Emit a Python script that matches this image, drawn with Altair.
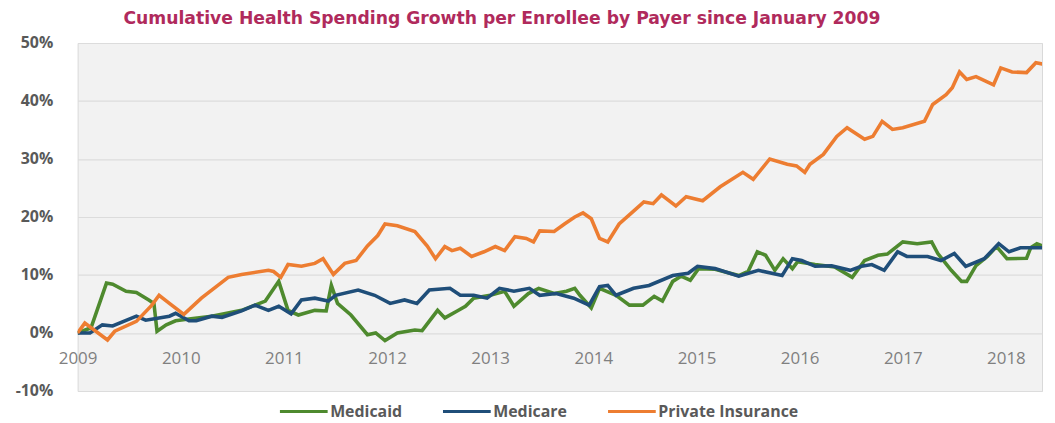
import altair as alt
import pandas as pd

# ---- data (decimal year, cumulative % growth) ----
medicaid_years = [2009.00, 2009.13, 2009.28, 2009.34, 2009.47, 2009.57, 2009.69, 2009.74, 2009.77, 2009.86,
                  2009.95, 2010.08, 2010.30, 2010.59, 2010.72, 2010.82, 2010.95, 2011.04, 2011.14, 2011.30,
                  2011.41, 2011.46, 2011.52, 2011.65, 2011.81, 2011.89, 2011.98, 2012.10, 2012.27, 2012.34,
                  2012.49, 2012.56, 2012.68, 2012.76, 2012.84, 2013.00, 2013.14, 2013.23, 2013.37, 2013.47,
                  2013.62, 2013.74, 2013.82, 2013.87, 2013.98, 2014.06, 2014.22, 2014.35, 2014.48, 2014.59,
                  2014.67, 2014.77, 2014.85, 2014.94, 2015.02, 2015.18, 2015.41, 2015.50, 2015.59, 2015.67,
                  2015.76, 2015.84, 2015.93, 2015.98, 2016.15, 2016.34, 2016.51, 2016.63, 2016.76, 2016.85,
                  2017.00, 2017.14, 2017.28, 2017.34, 2017.47, 2017.57, 2017.62, 2017.71, 2017.82, 2017.91,
                  2018.01, 2018.20, 2018.24, 2018.30, 2018.41]
medicaid_vals = [0.0, 0.9, 8.6, 8.4, 7.2, 7.0, 5.7, 5.1, 0.3, 1.4,
                 2.1, 2.4, 2.9, 3.9, 4.8, 5.5, 8.9, 3.9, 3.1, 3.9,
                 3.8, 8.2, 5.1, 3.1, -0.3, 0.0, -1.3, 0.0, 0.5, 0.4,
                 3.9, 2.6, 3.8, 4.6, 6.0, 6.5, 7.2, 4.6, 6.8, 7.7,
                 6.8, 7.2, 7.7, 6.5, 4.3, 7.7, 6.5, 4.8, 4.8, 6.3,
                 5.5, 8.9, 9.8, 9.1, 11.1, 11.0, 9.9, 10.6, 14.0, 13.4,
                 10.8, 12.8, 11.1, 12.3, 11.8, 11.4, 9.6, 12.5, 13.4, 13.6,
                 15.7, 15.4, 15.7, 13.7, 10.8, 8.9, 8.9, 11.6, 13.2, 14.9,
                 12.8, 12.9, 14.7, 15.4, 14.6]

medicare_years = [2009.00, 2009.12, 2009.24, 2009.34, 2009.57, 2009.66, 2009.79, 2009.89, 2009.95, 2010.08,
                  2010.15, 2010.30, 2010.40, 2010.59, 2010.72, 2010.85, 2010.95, 2011.07, 2011.17, 2011.30,
                  2011.43, 2011.50, 2011.72, 2011.88, 2012.03, 2012.17, 2012.29, 2012.41, 2012.61, 2012.71,
                  2012.84, 2012.97, 2013.09, 2013.23, 2013.38, 2013.48, 2013.64, 2013.81, 2013.96, 2014.06,
                  2014.14, 2014.22, 2014.39, 2014.54, 2014.77, 2014.92, 2015.01, 2015.18, 2015.41, 2015.60,
                  2015.83, 2015.93, 2016.02, 2016.15, 2016.31, 2016.49, 2016.60, 2016.70, 2016.82, 2016.95,
                  2017.04, 2017.24, 2017.37, 2017.50, 2017.61, 2017.79, 2017.93, 2018.03, 2018.14, 2018.27,
                  2018.41]
medicare_vals = [0.0, 0.0, 1.4, 1.2, 2.9, 2.2, 2.6, 2.9, 3.4, 2.1,
                 2.1, 2.9, 2.7, 3.8, 4.8, 3.9, 4.6, 3.3, 5.7, 6.0,
                 5.5, 6.5, 7.4, 6.5, 5.1, 5.7, 5.1, 7.4, 7.7, 6.5,
                 6.5, 6.0, 7.7, 7.2, 7.7, 6.5, 6.8, 6.0, 4.8, 8.0,
                 8.2, 6.5, 7.7, 8.2, 9.9, 10.3, 11.5, 11.1, 9.8, 10.8,
                 9.9, 12.8, 12.5, 11.5, 11.6, 10.8, 11.5, 11.8, 10.8, 14.0,
                 13.2, 13.2, 12.5, 13.7, 11.5, 12.8, 15.4, 14.0, 14.7, 14.7,
                 14.7]

private_years = [2009.00, 2009.07, 2009.29, 2009.36, 2009.57, 2009.72, 2009.79, 2009.89, 2010.03, 2010.20,
                 2010.46, 2010.59, 2010.85, 2010.90, 2010.97, 2011.04, 2011.17, 2011.30, 2011.38, 2011.48,
                 2011.59, 2011.70, 2011.81, 2011.91, 2011.98, 2012.10, 2012.27, 2012.39, 2012.47, 2012.56,
                 2012.63, 2012.71, 2012.82, 2012.94, 2013.05, 2013.14, 2013.24, 2013.35, 2013.42, 2013.48,
                 2013.62, 2013.72, 2013.82, 2013.90, 2013.98, 2014.06, 2014.14, 2014.25, 2014.39, 2014.49,
                 2014.58, 2014.66, 2014.80, 2014.90, 2015.06, 2015.23, 2015.45, 2015.55, 2015.71, 2015.88,
                 2015.97, 2016.05, 2016.10, 2016.23, 2016.36, 2016.46, 2016.63, 2016.71, 2016.80, 2016.90,
                 2017.00, 2017.21, 2017.29, 2017.42, 2017.48, 2017.55, 2017.62, 2017.71, 2017.88, 2017.95,
                 2018.06, 2018.20, 2018.29, 2018.41]
private_vals = [0.0, 1.7, -1.2, 0.3, 2.0, 4.8, 6.5, 5.1, 3.2, 6.0,
                9.6, 10.1, 10.8, 10.6, 9.6, 11.8, 11.5, 12.0, 12.8, 10.1,
                12.0, 12.5, 15.0, 16.8, 18.8, 18.5, 17.5, 15.0, 12.8, 14.9,
                14.2, 14.6, 13.2, 14.0, 14.9, 14.2, 16.6, 16.3, 15.7, 17.6,
                17.5, 18.8, 20.0, 20.7, 19.7, 16.3, 15.7, 18.8, 21.0, 22.6,
                22.3, 23.8, 21.9, 23.5, 22.8, 25.2, 27.7, 26.5, 30.0, 29.1,
                28.8, 27.7, 29.1, 30.8, 33.9, 35.4, 33.4, 33.9, 36.5, 35.1,
                35.4, 36.5, 39.4, 41.1, 42.3, 45.0, 43.7, 44.2, 42.8, 45.7,
                45.0, 44.9, 46.6, 46.2]

series_names = ["Medicaid", "Medicare", "Private Insurance"]
series_colors = ["#4e8a2e", "#1f4e79", "#ed7d31"]
x_ticks = list(range(2009, 2019))
y_ticks = [-10, 0, 10, 20, 30, 40, 50]

frames = []
for name, ys, vs in [("Medicaid", medicaid_years, medicaid_vals),
                     ("Medicare", medicare_years, medicare_vals),
                     ("Private Insurance", private_years, private_vals)]:
    frames.append(pd.DataFrame({"year": ys, "value": vs, "payer": name}))
df = pd.concat(frames, ignore_index=True)

chart = alt.Chart(df).mark_line(strokeWidth=3.6, clip=True).encode(
    x=alt.X("year:Q",
            scale=alt.Scale(domain=[2009, 2018.35], nice=False, zero=False),
            axis=alt.Axis(values=x_ticks, format="d", title=None, grid=False, domain=False,
                          ticks=False, offset=-58, labelPadding=17, labelFontSize=17,
                          labelFont="Open Sans", labelColor="#808080", labelFlush=False)),
    y=alt.Y("value:Q",
            scale=alt.Scale(domain=[-10, 50], nice=False),
            axis=alt.Axis(values=y_ticks, labelExpr="datum.value + '%'", title=None, domain=False,
                          ticks=False, labelPadding=25, labelFontSize=16, labelFont="Open Sans",
                          labelFontWeight="bold", labelColor="#595959", gridColor="#dcdcdc",
                          gridWidth=1.2)),
    color=alt.Color("payer:N",
                    scale=alt.Scale(domain=series_names, range=series_colors),
                    legend=alt.Legend(orient="none", legendX=202, legendY=345, direction="horizontal",
                                      title=None, symbolType="stroke", symbolSize=2304,
                                      symbolStrokeWidth=3, labelFontSize=16, labelFont="Open Sans",
                                      labelFontWeight="bold", labelColor="#595959",
                                      columnPadding=34, labelOffset=1)),
    order=alt.Order("year:Q"),
).properties(
    width=970,
    height=350,
    padding={"left": 70, "top": 34, "right": 5, "bottom": 30},
    autosize=alt.AutoSizeParams(type="none"),
    title=alt.TitleParams(
        text="Cumulative Health Spending Growth per Enrollee by Payer since January 2009",
        anchor="start", dx=109, offset=8, fontSize=17.3, font="DejaVu Sans", fontWeight="bold",
        color="#b02a5c"),
).configure_view(
    fill="#f2f2f2", stroke="#d9d9d9"
)

chart.save("out.html", embed_options={"renderer": "svg", "actions": False})
